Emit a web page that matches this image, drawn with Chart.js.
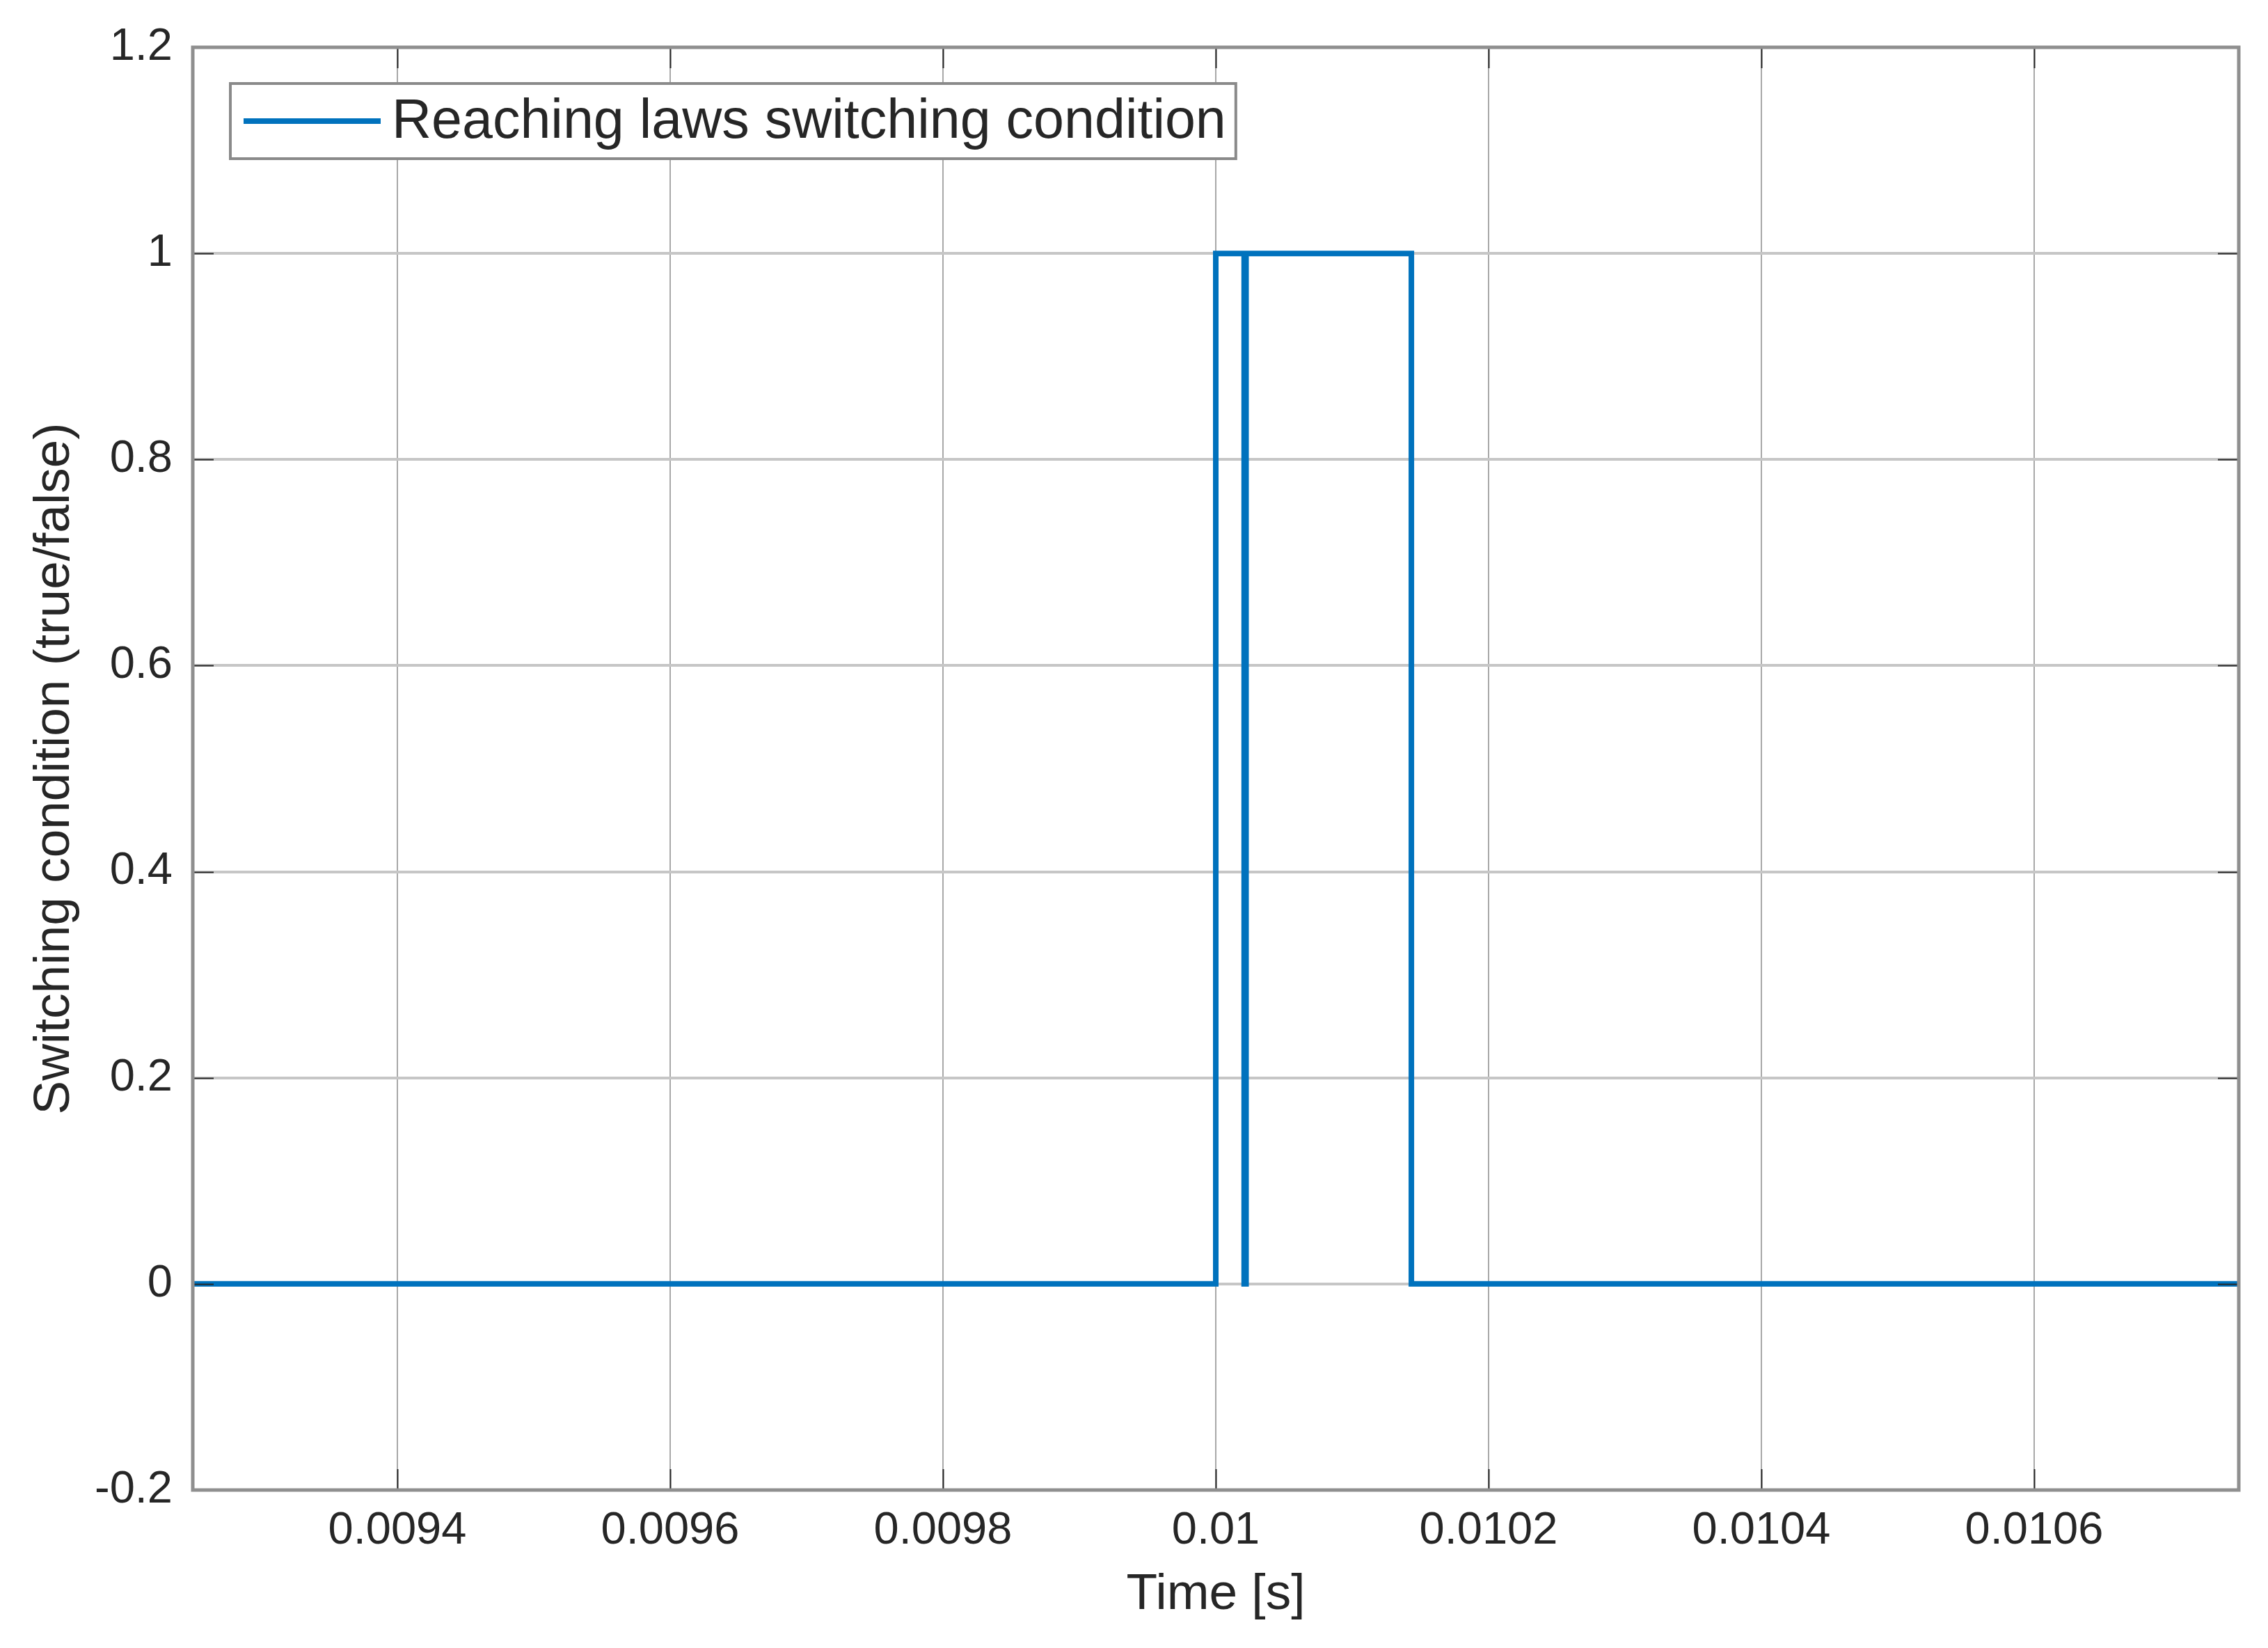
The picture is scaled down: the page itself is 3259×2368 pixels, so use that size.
<!DOCTYPE html>
<html>
<head>
<meta charset="utf-8">
<script src="https://cdn.jsdelivr.net/npm/chart.js@4.4.1/dist/chart.umd.min.js"></script>
<style>
  body { margin: 0; background: #fff; }
  canvas { display: block; }
</style>
</head>
<body>
<canvas id="switchChart" width="3259" height="2368"></canvas>
<script>
// data
const seriesName = "Reaching laws switching condition";
const timeS = [0.00925, 0.01, 0.01, 0.0100208, 0.0100208, 0.0100222, 0.0100222, 0.0101434, 0.0101434, 0.01075];
const switchState = [0, 0, 1, 1, 0, 0, 1, 1, 0, 0];

const xTicks = [0.0094, 0.0096, 0.0098, 0.01, 0.0102, 0.0104, 0.0106];
const xTickLabels = ["0.0094", "0.0096", "0.0098", "0.01", "0.0102", "0.0104", "0.0106"];
const yTicks = [-0.2, 0, 0.2, 0.4, 0.6, 0.8, 1, 1.2];
const yTickLabels = ["-0.2", "0", "0.2", "0.4", "0.6", "0.8", "1", "1.2"];

const lineColor = "#0072BD";
const textColor = "#262626";
const fontFam = "'Liberation Sans', Arial, sans-serif";

var points = timeS.map(function (t, i) { return { x: t, y: switchState[i] }; });

// box, inner tick marks and legend, matlab style
const matlabBox = {
    id: "matlabBox",
    afterDraw: function (chart) {
        var ctx = chart.ctx;
        var a = chart.chartArea;
        var xs = chart.scales.x, ys = chart.scales.y;
        ctx.save();
        // ticks inside the axes
        ctx.strokeStyle = textColor;
        ctx.lineWidth = 2;
        var tl = 30;
        ctx.beginPath();
        xTicks.forEach(function (v) {
            var px = Math.round(xs.getPixelForValue(v)) + 0.5;
            ctx.moveTo(px, a.bottom); ctx.lineTo(px, a.bottom - tl);
            ctx.moveTo(px, a.top); ctx.lineTo(px, a.top + tl);
        });
        yTicks.forEach(function (v) {
            var py = Math.round(ys.getPixelForValue(v)) + 0.5;
            ctx.moveTo(a.left, py); ctx.lineTo(a.left + tl, py);
            ctx.moveTo(a.right, py); ctx.lineTo(a.right - tl, py);
        });
        ctx.stroke();
        // frame
        ctx.strokeStyle = "#8f8f8f";
        ctx.lineWidth = 5;
        ctx.strokeRect(a.left, a.top, a.right - a.left, a.bottom - a.top);

        // legend
        ctx.font = "79px " + fontFam;
        var tw = ctx.measureText(seriesName).width;
        var bx = a.left + 54, by = a.top + 52;
        var bw = 19 + 197 + 16 + tw + 14, bh = 108;
        ctx.fillStyle = "#fff";
        ctx.fillRect(bx, by, bw, bh);
        ctx.strokeStyle = "#8a8a8a";
        ctx.lineWidth = 4;
        ctx.strokeRect(bx, by, bw, bh);
        ctx.strokeStyle = lineColor;
        ctx.lineWidth = 8;
        ctx.beginPath();
        ctx.moveTo(bx + 19, by + bh / 2);
        ctx.lineTo(bx + 19 + 197, by + bh / 2);
        ctx.stroke();
        ctx.fillStyle = textColor;
        ctx.textBaseline = "middle";
        ctx.textAlign = "left";
        ctx.fillText(seriesName, bx + 19 + 197 + 16, by + bh / 2 + 2);
        ctx.restore();
    }
};

const switchChart = new Chart("switchChart", {
    type: "line",
    data: {
        datasets: [{
            label: seriesName,
            data: points,
            borderColor: lineColor,
            borderWidth: 8,
            pointRadius: 0,
            fill: false,
            tension: 0
        }]
    },
    options: {
        responsive: false,
        animation: false,
        devicePixelRatio: 1,
        layout: { padding: { top: 68, right: 42, left: 0, bottom: 0 } },
        plugins: { legend: { display: false }, tooltip: { enabled: false } },
        scales: {
            x: {
                type: "linear",
                min: 0.00925,
                max: 0.01075,
                afterBuildTicks: function (scale) {
                    scale.ticks = xTicks.map(function (v) { return { value: v }; });
                },
                afterFit: function (scale) { scale.height = 227; },
                ticks: {
                    autoSkip: false,
                    maxRotation: 0,
                    padding: 20,
                    color: textColor,
                    font: { family: fontFam, size: 65 },
                    callback: function (v, i) { return xTickLabels[i]; }
                },
                grid: { color: "#a8a8a8", lineWidth: 2, drawTicks: false },
                border: { display: false },
                title: {
                    display: true,
                    text: "Time [s]",
                    color: textColor,
                    font: { family: fontFam, size: 73 },
                    padding: { top: 0, bottom: 32 }
                }
            },
            y: {
                type: "linear",
                min: -0.2,
                max: 1.2,
                afterBuildTicks: function (scale) {
                    scale.ticks = yTicks.map(function (v) { return { value: v }; });
                },
                afterFit: function (scale) { scale.width = 277; },
                ticks: {
                    padding: 29,
                    color: textColor,
                    font: { family: fontFam, size: 65 },
                    callback: function (v, i) { return yTickLabels[i]; }
                },
                grid: { color: "#c6c6c6", lineWidth: 4, drawTicks: false },
                border: { display: false },
                title: {
                    display: true,
                    text: "Switching condition (true/false)",
                    color: textColor,
                    font: { family: fontFam, size: 73 },
                    padding: { top: 35, bottom: 0 }
                }
            }
        }
    },
    plugins: [matlabBox]
});
console.log("Chart is " + switchChart.id);
</script>
</body>
</html>
